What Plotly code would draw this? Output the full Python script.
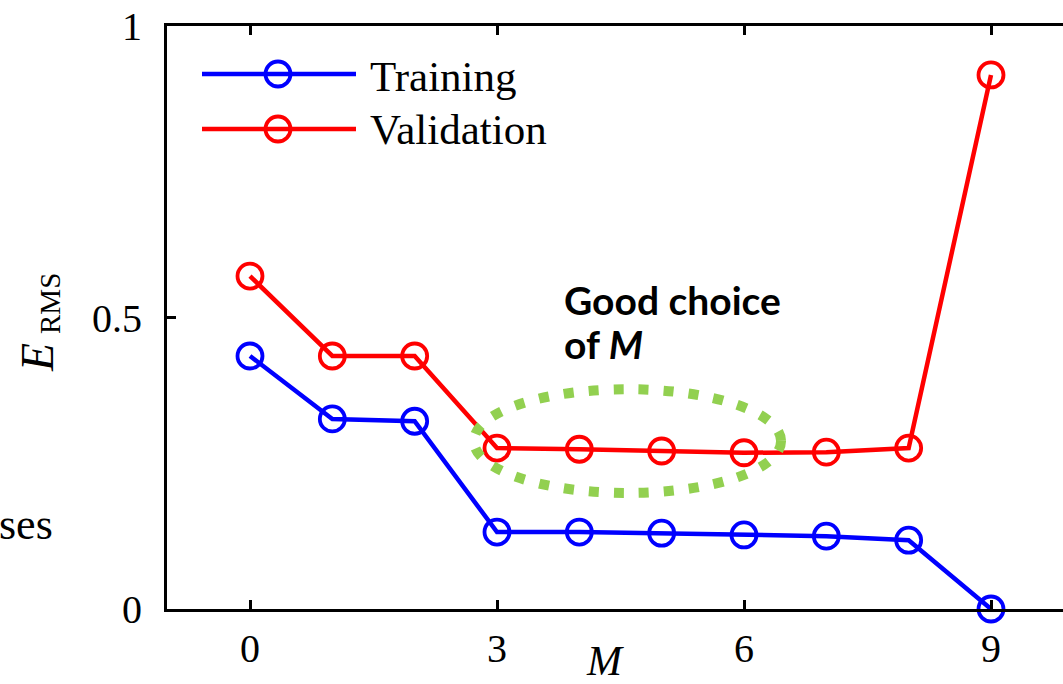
import plotly.graph_objects as go

# Polynomial order M and RMS error on the training and validation sets
orders = [0, 1, 2, 3, 4, 5, 6, 7, 8, 9]
training_rms = [0.434, 0.326, 0.322, 0.132, 0.132, 0.130, 0.127, 0.125, 0.118, 0.0]
validation_rms = [0.571, 0.434, 0.434, 0.276, 0.274, 0.271, 0.268, 0.269, 0.276, 0.916]

x_ticks = [0, 3, 6, 9]
y_ticks = [0, 0.5, 1]
y_tick_text = ["0", "0.5", "1"]
series_names = ["Training", "Validation"]
series_colors = ["#0000ff", "#ff0000"]

W, H = 1063, 684
PL, PR, PT, PB = 167, 1063, 26, 609   # plot-area edges in pixels


def px(x):
    return (x - PL) / (PR - PL)


def py(y):
    return (PB - y) / (PB - PT)


SERIF = "Liberation Serif, Times New Roman, serif"
SANS = "Lato, Open Sans, sans-serif"

fig = go.Figure()
for name, vals, col in zip(series_names, [training_rms, validation_rms], series_colors):
    fig.add_trace(go.Scatter(
        x=orders, y=vals, name=name, mode="lines+markers",
        line=dict(color=col, width=4.5),
        marker=dict(symbol="circle-open", size=25, color=col, line=dict(width=3.8, color=col)),
        cliponaxis=False, showlegend=False,
    ))

shapes = []
annotations = []

# hand-drawn legend with long sample lines
legend_y = [74, 129]
text_y = [77, 129]
for name, col, ly, ty in zip(series_names, series_colors, legend_y, text_y):
    shapes.append(dict(type="line", xref="paper", yref="paper",
                       x0=px(202), x1=px(356), y0=py(ly), y1=py(ly),
                       line=dict(color=col, width=4.5)))
    shapes.append(dict(type="circle", xref="paper", yref="paper",
                       xsizemode="pixel", ysizemode="pixel",
                       xanchor=px(278), yanchor=py(ly),
                       x0=-12.5, x1=12.5, y0=-12.5, y1=12.5,
                       line=dict(color=col, width=3.8)))
    annotations.append(dict(text=name, xref="paper", yref="paper",
                            x=px(368), y=py(ty), xanchor="left", yanchor="middle",
                            showarrow=False, font=dict(family=SERIF, size=43, color="black")))

# dotted ellipse around the flat part of the validation curve
shapes.append(dict(type="circle", xref="x", yref="y",
                   x0=2.72, x1=6.45, y0=0.199, y1=0.377,
                   line=dict(color="#92d050", width=10, dash="10px,15px")))

annotations += [
    dict(text="<b>Good choice</b>", xref="paper", yref="paper", x=px(562), y=py(300),
         xanchor="left", yanchor="middle", showarrow=False,
         font=dict(family=SANS, size=39, color="black")),
    dict(text="<b>of <i>M</i></b>", xref="paper", yref="paper", x=px(562), y=py(344),
         xanchor="left", yanchor="middle", showarrow=False,
         font=dict(family=SANS, size=39, color="black")),
    # axis titles
    dict(text="<i>M</i>", xref="paper", yref="paper", x=px(605), y=py(661),
         xanchor="center", yanchor="middle", showarrow=False,
         font=dict(family=SERIF, size=42, color="black")),
    dict(text="<i>E</i>", xref="paper", yref="paper", x=px(38), y=py(358),
         xanchor="center", yanchor="middle", showarrow=False, textangle=-90,
         font=dict(family=SERIF, size=46, color="black")),
    dict(text="RMS", xref="paper", yref="paper", x=px(50), y=py(304),
         xanchor="center", yanchor="middle", showarrow=False, textangle=-90,
         font=dict(family=SERIF, size=29, color="black")),
    # fragment of surrounding slide text
    dict(text="ses", xref="paper", yref="paper", x=px(55), y=py(524),
         xanchor="right", yanchor="middle", showarrow=False,
         font=dict(family=SERIF, size=44, color="black")),
]

scale = (991 - 250) / 9.0
fig.update_layout(
    width=W, height=H, autosize=False,
    margin=dict(l=PL, r=W - PR, t=PT, b=H - PB, pad=0),
    paper_bgcolor="white", plot_bgcolor="white",
    shapes=shapes, annotations=annotations,
    xaxis=dict(range=[(PL - 250) / scale, (PR - 250) / scale],
               tickvals=x_ticks, ticktext=[str(t) for t in x_ticks],
               ticks="inside", ticklen=9, tickwidth=3, tickcolor="black",
               showline=True, linewidth=3, linecolor="black", mirror="ticks",
               showgrid=False, zeroline=False, ticklabelstandoff=2,
               tickfont=dict(family=SERIF, size=40, color="black")),
    yaxis=dict(range=[0, 1], tickvals=y_ticks, ticktext=y_tick_text,
               ticks="inside", ticklen=9, tickwidth=3, tickcolor="black",
               showline=True, linewidth=3, linecolor="black",
               showgrid=False, zeroline=False, ticklabelstandoff=14,
               tickfont=dict(family=SERIF, size=40, color="black")),
)

fig.write_html("out.html")
